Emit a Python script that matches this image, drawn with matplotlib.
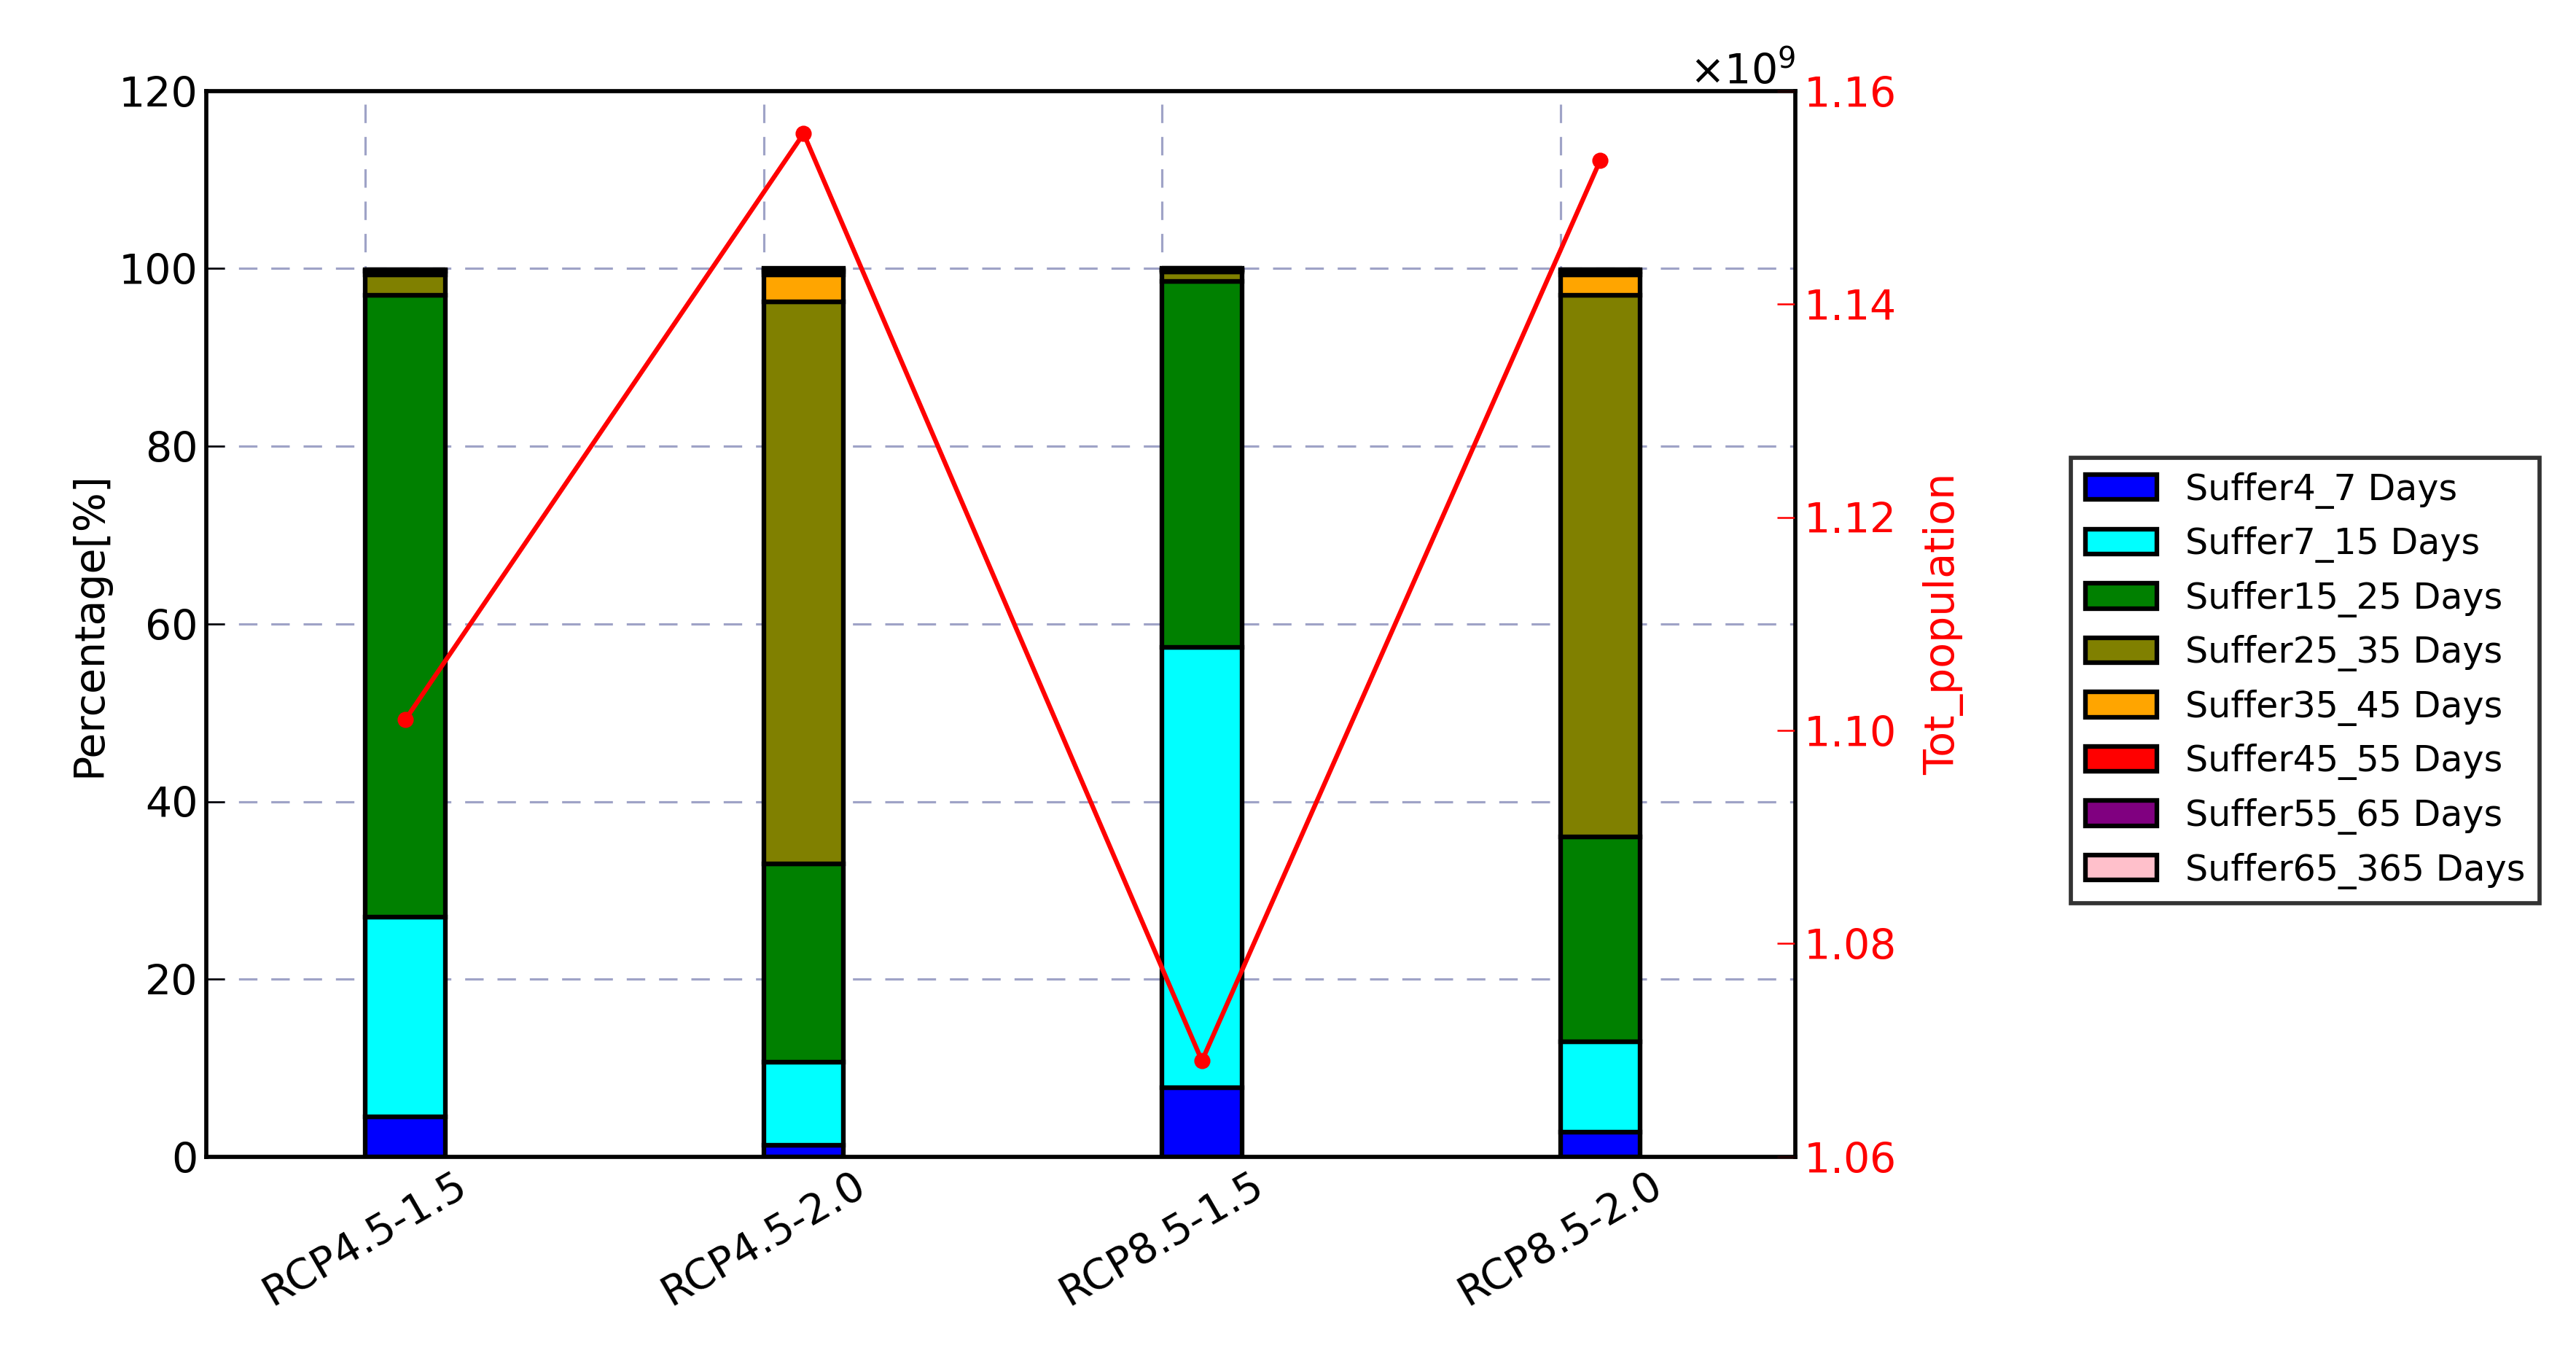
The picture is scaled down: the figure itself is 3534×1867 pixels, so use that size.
import numpy as np
import matplotlib.pyplot as plt
from matplotlib.ticker import ScalarFormatter

scenarios = ['RCP4.5-1.5', 'RCP4.5-2.0', 'RCP8.5-1.5', 'RCP8.5-2.0']
labels = ['Suffer4_7 Days', 'Suffer7_15 Days', 'Suffer15_25 Days', 'Suffer25_35 Days',
          'Suffer35_45 Days', 'Suffer45_55 Days', 'Suffer55_65 Days', 'Suffer65_365 Days']
colors = ['blue', 'cyan', 'green', 'olive', 'orange', 'red', 'purple', 'pink']

s4_7 = [4.5, 1.3, 7.8, 2.8]
s7_15 = [22.5, 9.4, 49.6, 10.2]
s15_25 = [70.0, 22.3, 41.2, 23.0]
s25_35 = [2.3, 63.3, 1.0, 61.0]
s35_45 = [0.4, 3.0, 0.2, 2.3]
s45_55 = [0.1, 0.4, 0.1, 0.4]
s55_65 = [0.1, 0.2, 0.1, 0.2]
s65_365 = [0.0, 0.1, 0.0, 0.0]
tot_population = [1.101e9, 1.156e9, 1.069e9, 1.1535e9]

series = [s4_7, s7_15, s15_25, s25_35, s35_45, s45_55, s55_65, s65_365]

fig = plt.figure(figsize=(15.5, 8.19), dpi=228)
ax = fig.add_axes([0.08, 0.15, 0.617, 0.783])
x = np.arange(len(scenarios))
width = 0.2
bottom = np.zeros(len(scenarios))
for vals, lab, col in zip(series, labels, colors):
    ax.bar(x, vals, width, bottom=bottom, color=col, edgecolor='black',
           linewidth=2, align='edge', label=lab, zorder=2)
    bottom += np.array(vals)

ax.set_xlim(-0.4, 3.59)
ax.set_ylim(0, 120)
ax.set_xticks(x)
ax.set_xticklabels(scenarios, rotation=30, fontsize=18, ha='center')
ax.tick_params(axis='y', labelsize=18, direction='in', length=8)
ax.tick_params(axis='x', direction='in', length=8)
ax.set_ylabel('Percentage[%]', fontsize=18)
ax.grid(True, linestyle=(0, (8, 6)), color='#9fa3c7', linewidth=1, zorder=0)
for s in ax.spines.values():
    s.set_linewidth(1.8)

ax2 = ax.twinx()
ax2.plot(x + width / 2, tot_population, color='red', linewidth=2, marker='o', markersize=6)
ax2.set_ylim(1.06e9, 1.16e9)
ax2.set_yticks([1.06e9, 1.08e9, 1.10e9, 1.12e9, 1.14e9, 1.16e9])
fmt = ScalarFormatter(useMathText=True)
ax2.yaxis.set_major_formatter(fmt)
ax2.tick_params(axis='y', colors='red', labelsize=18, direction='in', length=8)
ax2.yaxis.get_offset_text().set_fontsize(18)
ax2.yaxis.get_offset_text().set_color('black')
ax2.yaxis.get_offset_text().set_horizontalalignment('right')
ax2.set_ylabel('Tot_population', color='red', fontsize=18, labelpad=12)

handles, labs = ax.get_legend_handles_labels()
leg = fig.legend(handles, labs, loc='center left', bbox_to_anchor=(0.797, 0.5),
                 fontsize=15.5, frameon=True, fancybox=False, edgecolor='black')
leg.get_frame().set_linewidth(1.8)

fig.savefig('out.png', dpi=228)
